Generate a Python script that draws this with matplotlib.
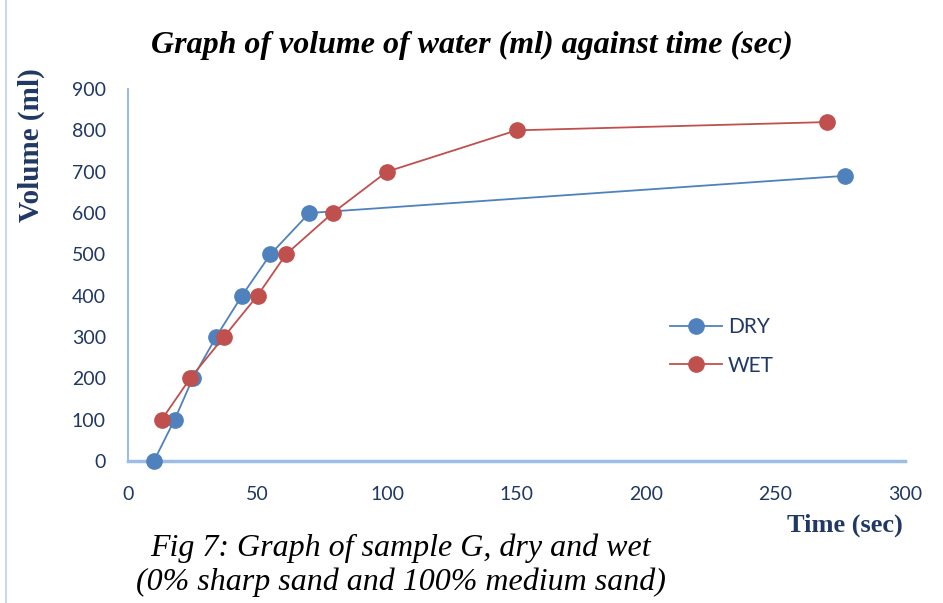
import matplotlib
matplotlib.use('Agg')
import matplotlib.pyplot as plt
from matplotlib.lines import Line2D

# data
dry_time = [10, 18, 25, 34, 44, 55, 70, 277]
dry_vol = [0, 100, 200, 300, 400, 500, 600, 690]
wet_time = [13, 24, 37, 50, 61, 79, 100, 150, 270]
wet_vol = [100, 200, 300, 400, 500, 600, 700, 800, 820]
x_ticks = [0, 50, 100, 150, 200, 250, 300]
y_ticks = [0, 100, 200, 300, 400, 500, 600, 700, 800, 900]

BLUE = '#4F81BD'
RED = '#C0504D'
AXIS = '#9DBDE6'
TXT = '#203864'

fig = plt.figure(figsize=(9.43, 6.03), dpi=100)
ax = fig.add_axes([128/943, 142/603, 777/943, 372/603])

ax.plot(dry_time, dry_vol, color=BLUE, lw=1.3, marker='o', ms=11,
        label='DRY', clip_on=False, zorder=3)
ax.plot(wet_time, wet_vol, color=RED, lw=1.3, marker='o', ms=11,
        label='WET', clip_on=False, zorder=3)

ax.set_xlim(0, 300)
ax.set_ylim(0, 900)
ax.set_xticks(x_ticks)
ax.set_yticks(y_ticks)
for s in ('top', 'right'):
  ax.spines[s].set_visible(False)
ax.spines['left'].set_color(AXIS)
ax.spines['bottom'].set_color(AXIS)
ax.spines['left'].set_linewidth(1.5)
ax.spines['bottom'].set_linewidth(2.5)
ax.tick_params(length=0, labelsize=14, labelcolor=TXT)
for lbl in ax.get_xticklabels() + ax.get_yticklabels():
  lbl.set_family('Lato')
ax.tick_params(axis='x', pad=18)
ax.tick_params(axis='y', pad=16)

ax.legend(loc='upper left', bbox_to_anchor=(0.697, 0.387), frameon=False,
          prop={'family': 'Lato', 'size': 15}, labelcolor=TXT,
          handlelength=2.5, handletextpad=0.3, labelspacing=0.9,
          borderpad=0, borderaxespad=0)

fig.text(0.5, 0.925, 'Graph of volume of water (ml) against time (sec)',
         ha='center', va='center', family='Liberation Serif',
         style='italic', weight='bold', fontsize=23)
fig.text(0.033, 0.76, 'Volume (ml)', rotation=90, ha='center', va='center',
         family='Liberation Serif', weight='bold', fontsize=21, color=TXT)
fig.text(0.896, 0.129, 'Time (sec)', ha='center', va='center',
         family='Liberation Serif', weight='bold', fontsize=19, color=TXT)
fig.text(0.425, 0.091, 'Fig 7: Graph of sample G, dry and wet',
         ha='center', va='center', family='Liberation Serif',
         style='italic', fontsize=23)
fig.text(0.425, 0.035, '(0% sharp sand and 100% medium sand)',
         ha='center', va='center', family='Liberation Serif',
         style='italic', fontsize=23)

# thin frame line at the left edge of the picture
fig.add_artist(Line2D([0.006, 0.006], [0, 1], color='#C9DAF0', lw=1.5,
                      transform=fig.transFigure))

fig.savefig('out.png', dpi=100)
